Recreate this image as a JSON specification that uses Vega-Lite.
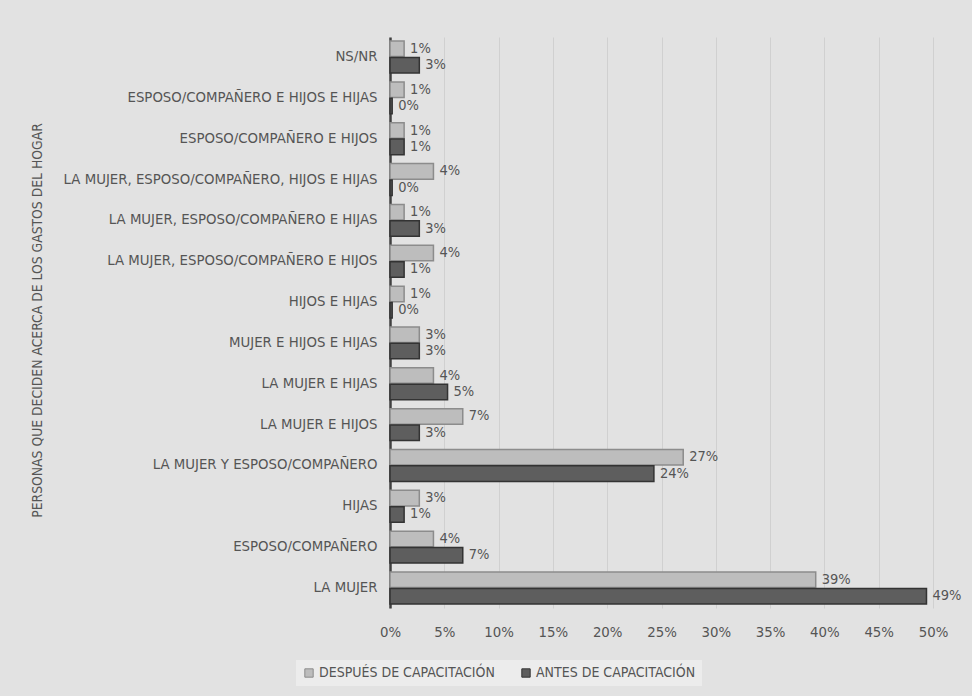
{
  "$schema": "https://vega.github.io/schema/vega-lite/v6.json",
  "autosize": {"type": "none"},
  "width": 543,
  "height": 571,
  "padding": {"left": 390, "top": 37, "right": 39, "bottom": 88},
  "background": "#e2e2e2",
  "config": {
    "view": {"stroke": "transparent"},
    "font": "Liberation Sans Narrow, DejaVu Sans Condensed, sans-serif",
    "axis": {"labelColor": "#555555", "titleColor": "#555555", "labelFontSize": 14.8},
    "legend": {"labelColor": "#555555", "labelFontSize": 14}
  },
  "data": {
    "values": [
      {"cat": "NS/NR", "serie": "DESPUÉS DE CAPACITACIÓN", "value": 0.013},
      {"cat": "NS/NR", "serie": "ANTES DE CAPACITACIÓN", "value": 0.027},
      {"cat": "ESPOSO/COMPAÑERO E HIJOS E HIJAS", "serie": "DESPUÉS DE CAPACITACIÓN", "value": 0.013},
      {"cat": "ESPOSO/COMPAÑERO E HIJOS E HIJAS", "serie": "ANTES DE CAPACITACIÓN", "value": 0.002},
      {"cat": "ESPOSO/COMPAÑERO E HIJOS", "serie": "DESPUÉS DE CAPACITACIÓN", "value": 0.013},
      {"cat": "ESPOSO/COMPAÑERO E HIJOS", "serie": "ANTES DE CAPACITACIÓN", "value": 0.013},
      {"cat": "LA MUJER, ESPOSO/COMPAÑERO, HIJOS E HIJAS", "serie": "DESPUÉS DE CAPACITACIÓN", "value": 0.04},
      {"cat": "LA MUJER, ESPOSO/COMPAÑERO, HIJOS E HIJAS", "serie": "ANTES DE CAPACITACIÓN", "value": 0.002},
      {"cat": "LA MUJER, ESPOSO/COMPAÑERO E HIJAS", "serie": "DESPUÉS DE CAPACITACIÓN", "value": 0.013},
      {"cat": "LA MUJER, ESPOSO/COMPAÑERO E HIJAS", "serie": "ANTES DE CAPACITACIÓN", "value": 0.027},
      {"cat": "LA MUJER, ESPOSO/COMPAÑERO E HIJOS", "serie": "DESPUÉS DE CAPACITACIÓN", "value": 0.04},
      {"cat": "LA MUJER, ESPOSO/COMPAÑERO E HIJOS", "serie": "ANTES DE CAPACITACIÓN", "value": 0.013},
      {"cat": "HIJOS E HIJAS", "serie": "DESPUÉS DE CAPACITACIÓN", "value": 0.013},
      {"cat": "HIJOS E HIJAS", "serie": "ANTES DE CAPACITACIÓN", "value": 0.002},
      {"cat": "MUJER E HIJOS E HIJAS", "serie": "DESPUÉS DE CAPACITACIÓN", "value": 0.027},
      {"cat": "MUJER E HIJOS E HIJAS", "serie": "ANTES DE CAPACITACIÓN", "value": 0.027},
      {"cat": "LA MUJER E HIJAS", "serie": "DESPUÉS DE CAPACITACIÓN", "value": 0.04},
      {"cat": "LA MUJER E HIJAS", "serie": "ANTES DE CAPACITACIÓN", "value": 0.053},
      {"cat": "LA MUJER E HIJOS", "serie": "DESPUÉS DE CAPACITACIÓN", "value": 0.067},
      {"cat": "LA MUJER E HIJOS", "serie": "ANTES DE CAPACITACIÓN", "value": 0.027},
      {"cat": "LA MUJER Y ESPOSO/COMPAÑERO", "serie": "DESPUÉS DE CAPACITACIÓN", "value": 0.27},
      {"cat": "LA MUJER Y ESPOSO/COMPAÑERO", "serie": "ANTES DE CAPACITACIÓN", "value": 0.243},
      {"cat": "HIJAS", "serie": "DESPUÉS DE CAPACITACIÓN", "value": 0.027},
      {"cat": "HIJAS", "serie": "ANTES DE CAPACITACIÓN", "value": 0.013},
      {"cat": "ESPOSO/COMPAÑERO", "serie": "DESPUÉS DE CAPACITACIÓN", "value": 0.04},
      {"cat": "ESPOSO/COMPAÑERO", "serie": "ANTES DE CAPACITACIÓN", "value": 0.067},
      {"cat": "LA MUJER", "serie": "DESPUÉS DE CAPACITACIÓN", "value": 0.392},
      {"cat": "LA MUJER", "serie": "ANTES DE CAPACITACIÓN", "value": 0.494}
    ]
  },
  "encoding": {
    "y": {
      "field": "cat",
      "type": "nominal",
      "sort": null,
      "scale": {"paddingInner": 0.22, "paddingOuter": 0.1},
      "axis": {
        "title": "PERSONAS QUE DECIDEN ACERCA DE LOS GASTOS DEL HOGAR",
        "titleFontSize": 13.8,
        "titleFontWeight": "normal",
        "titleX": -353,
        "titleY": 283,
        "titleAngle": -90,
        "titleAlign": "center",
        "titleBaseline": "middle",
        "domain": true,
        "domainColor": "#404040",
        "domainWidth": 2.5,
        "ticks": false,
        "labelPadding": 13,
        "labelLimit": 400
      }
    },
    "yOffset": {
      "field": "serie",
      "type": "nominal",
      "sort": ["DESPUÉS DE CAPACITACIÓN", "ANTES DE CAPACITACIÓN"],
      "scale": {"paddingInner": 0.05}
    },
    "x": {
      "field": "value",
      "type": "quantitative",
      "scale": {"domain": [0, 0.5]},
      "axis": {
        "title": null,
        "format": ".0%",
        "values": [0, 0.05, 0.1, 0.15, 0.2, 0.25, 0.3, 0.35, 0.4, 0.45, 0.5],
        "labelOverlap": false,
        "labelFlush": false,
        "domain": false,
        "ticks": false,
        "grid": true,
        "gridColor": "#d0d0d0",
        "labelPadding": 16
      }
    }
  },
  "layer": [
    {
      "mark": {"type": "bar", "strokeWidth": 1.5},
      "encoding": {
        "color": {
          "field": "serie",
          "type": "nominal",
          "scale": {
            "domain": ["DESPUÉS DE CAPACITACIÓN", "ANTES DE CAPACITACIÓN"],
            "range": ["#bdbdbd", "#5e5e5e"]
          },
          "legend": {
            "title": null,
            "orient": "none",
            "legendX": -94,
            "legendY": 623,
            "direction": "horizontal",
            "symbolType": "square",
            "symbolSize": 70,
            "symbolStrokeColor": "#555555",
            "symbolStrokeWidth": 1,
            "fillColor": "#ececec",
            "padding": 6,
            "columnPadding": 24,
            "labelOffset": 3,
            "labelLimit": 300
          }
        },
        "stroke": {
          "field": "serie",
          "type": "nominal",
          "scale": {
            "domain": ["DESPUÉS DE CAPACITACIÓN", "ANTES DE CAPACITACIÓN"],
            "range": ["#8c8c8c", "#333333"]
          },
          "legend": null
        }
      }
    },
    {
      "mark": {"type": "text", "align": "left", "baseline": "middle", "dx": 6, "fontSize": 14.5, "color": "#555555"},
      "encoding": {
        "text": {"field": "value", "type": "quantitative", "format": ".0%"}
      }
    }
  ]
}
